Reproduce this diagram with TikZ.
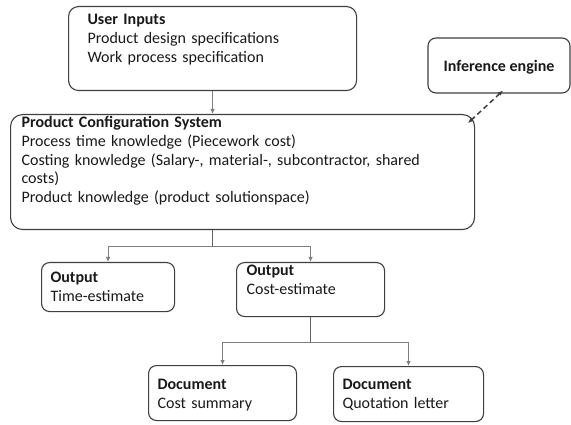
\documentclass[tikz,border=0pt]{standalone}
\usepackage{fontspec}
\setmainfont{Carlito}
\usetikzlibrary{arrows.meta}
\definecolor{boxgray}{HTML}{3F3F3F}
\definecolor{linegray}{HTML}{7F7F7F}
\tikzset{
  block/.style={draw=boxgray, line width=1.1pt, rounded corners=8pt, anchor=north west,
                inner ysep=0pt, align=left, text=black!90,
                font=\fontsize{16}{18.8}\selectfont},
  link/.style={draw=linegray, line width=0.9pt}
}

\begin{document}
\begin{tikzpicture}[x=1pt, y=-1pt, >={Latex[length=5pt,width=4.5pt]}]
\useasboundingbox (0,0) rectangle (571,425);

\node[block, rounded corners=10pt, inner xsep=19pt, text width=250pt,
      text height=18pt, text depth=66pt] (user) at (68,6)
      {\textbf{User Inputs}\\ Product design specifications\\ Work process specification};

\node[block, anchor=center, align=center, minimum width=142pt, minimum height=55pt,
      text depth=0pt] (inf) at (499,65.5) {\textbf{Inference engine}};

\node[block, rounded corners=12pt, inner xsep=11pt, text width=442pt,
      text height=13pt, text depth=102pt] (pcs) at (10,114)
      {\textbf{Product Configuration System}\\ Process time knowledge (Piecework cost)\\
       Costing knowledge (Salary-, material-, subcontractor, shared\\ costs)\\
       Product knowledge (product solutionspace)};

\node[block, inner xsep=9pt, text width=115pt,
      text height=20pt, text depth=29pt] (out1) at (41,262)
      {\textbf{Output}\\ Time-estimate};

\node[block, inner xsep=10pt, text width=128pt,
      text height=13pt, text depth=41pt] (out2) at (236,262)
      {\textbf{Output}\\ Cost-estimate};

\node[block, inner xsep=9pt, text width=130pt,
      text height=24pt, text depth=31pt] (doc1) at (148,365)
      {\textbf{Document}\\ Cost summary};

\node[block, inner xsep=9pt, text width=132pt,
      text height=23pt, text depth=32pt] (doc2) at (333,366)
      {\textbf{Document}\\ Quotation letter};

% junctions of the tree
\coordinate (split1) at (pcs.south -| user.south);
\coordinate (split1) at ([yshift=-16pt]split1);
\coordinate (split2) at ([yshift=-25pt]out2.south);

\draw [->, link] (user.south) -- (pcs.north -| user.south);
\draw [<->, boxgray, line width=1.5pt, dash pattern=on 5pt off 3.5pt]
      ([xshift=4pt,yshift=3pt]inf.south) -- ([xshift=-7pt,yshift=-9pt]pcs.north east);

\draw [link, draw=boxgray!80] (pcs.south -| user.south) -- (split1);
\draw [->, link] (split1) -| (out1.north);
\draw [->, link] (split1) -| (out2.north);
\draw [link, draw=boxgray!80] (out2.south) -- (split2);
\draw [->, link] (split2) -| (doc1.north);
\draw [->, link] (split2) -| (doc2.north);
\end{tikzpicture}
\end{document}
